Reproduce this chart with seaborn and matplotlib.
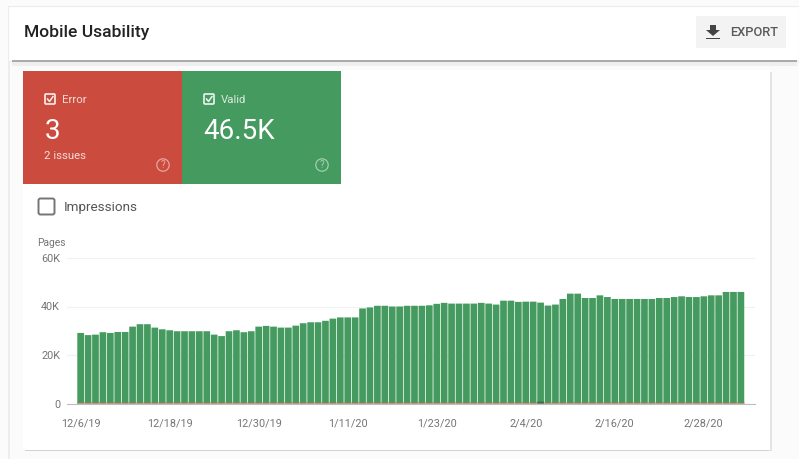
import pandas as pd
import seaborn as sns
import matplotlib.pyplot as plt
from matplotlib.patches import Rectangle, FancyBboxPatch, Circle, Polygon

# values are in thousands of pages
valid = [29.1, 28.2, 28.4, 29.4, 29.1, 29.5, 29.5, 31.7, 32.7, 32.7,
         31.3, 30.6, 30.2, 29.8, 29.8, 29.8, 29.8, 29.8, 28.4, 27.8,
         29.8, 30.2, 29.4, 29.8, 31.7, 32.0, 31.7, 31.3, 31.3, 32.1,
         33.1, 33.5, 33.5, 34.1, 35.0, 35.5, 35.5, 35.5, 39.2, 39.6,
         40.3, 40.3, 40.0, 40.0, 40.3, 40.3, 40.3, 40.5, 41.1, 41.5,
         41.2, 41.2, 41.2, 41.2, 41.5, 41.2, 40.8, 42.4, 42.4, 41.9,
         42.0, 42.0, 41.6, 40.4, 40.8, 43.1, 45.3, 45.3, 43.5, 43.5,
         44.6, 43.9, 43.1, 43.1, 43.1, 43.1, 43.1, 43.1, 43.5, 43.5,
         43.9, 44.2, 43.9, 43.9, 44.2, 44.6, 44.6, 46.0, 46.0, 46.0]
errors = [0.4] * 90
dark_spot = [0.0] * 62 + [0.8] + [0.0] * 27
dates = pd.date_range('2019-12-06', periods=90)
day_labels = [f'{d.month}/{d.day}/{d.strftime("%y")}' for d in dates]
y_ticks = [0, 20, 40, 60]
y_labels = ['0', '20K', '40K', '60K']

RED = '#cb4c3e'
GREEN = '#449a5f'
GREY = '#757575'
W, H = 799, 459

plt.rcParams['font.family'] = ['Roboto', 'DejaVu Sans']
fig = plt.figure(figsize=(W / 100, H / 100), dpi=100, facecolor='#fbfbfb')

# page furniture, drawn in pixel coordinates
ui = fig.add_axes([0, 0, 1, 1])
ui.set_xlim(0, W)
ui.set_ylim(H, 0)
ui.axis('off')

ui.add_patch(Rectangle((8, 6), W - 8, 55, fc='white', ec='#ececec', lw=0.8))
ui.add_patch(Rectangle((12, 60), 785, 2.2, fc='#ababab', ec='none'))
ui.add_patch(Rectangle((12, 62.2), 785, 4, fc='#efefef', ec='none'))
ui.add_patch(Rectangle((8, 61), 2, H, fc='#ededed', ec='none'))
ui.add_patch(Rectangle((25, 449), 747, 2.2, fc='#d2d2d2', ec='none'))
ui.add_patch(Rectangle((769, 72), 3, 379, fc='#e4e4e4', ec='none'))
ui.add_patch(Rectangle((23, 70), 747, 380, fc='white', ec='none'))
ui.text(24, 32.5, 'Mobile Usability', fontsize=12.6, fontweight='medium', color='#222222', va='center')

ui.add_patch(Rectangle((696, 16), 90, 32, fc='#f3f3f3', ec='none'))
ui.add_patch(Polygon([(710, 25), (716, 25), (716, 30), (720, 30), (713, 36), (706, 30), (710, 30)], fc='#444444', ec='none'))
ui.add_patch(Rectangle((706, 37.5), 14, 1.6, fc='#444444', ec='none'))
ui.text(730.5, 32.5, 'EXPORT', fontsize=9.3, fontweight='medium', color='#5a5a5a', va='center')


def status_card(x, color, name, number, issues=None):
    ui.add_patch(Rectangle((x, 71), 159, 112.5, fc=color, ec='none'))
    ui.add_patch(FancyBboxPatch((x + 22, 94), 10, 10, boxstyle='round,pad=0,rounding_size=1',
                                fc='none', ec='white', lw=1.2, alpha=0.9))
    ui.plot([x + 24.5, x + 26.5, x + 30], [99, 101.5, 96.5], color='white', lw=1.1, alpha=0.9)
    ui.text(x + 39, 100, name, fontsize=8.2, color='white', alpha=0.8, va='center')
    ui.text(x + 21.5, 131.5, number, fontsize=20, color='white', va='center')
    if issues:
        ui.text(x + 21.5, 156, issues, fontsize=8.2, color='white', alpha=0.8, va='center')
    ui.add_patch(Circle((x + 140, 165), 6.2, fc='none', ec='white', lw=0.9, alpha=0.5))
    ui.text(x + 140, 165.5, '?', fontsize=7, color='white', alpha=0.55, ha='center', va='center')


status_card(23, RED, 'Error', '3', '2 issues')
status_card(182, GREEN, 'Valid', '46.5K')

ui.add_patch(FancyBboxPatch((38.5, 198.5), 16, 16, boxstyle='round,pad=0,rounding_size=2',
                            fc='white', ec=GREY, lw=1.4))
ui.text(64, 207.5, 'Impressions', fontsize=9.7, color='#555555', va='center')
ui.text(37.5, 243, 'Pages', fontsize=7.4, color=GREY, va='center')

# chart
left, right, top, bottom = 67, 755, 258, 403.5
ax = fig.add_axes([left / W, 1 - bottom / H, (right - left) / W, (bottom - top) / H])
ax.patch.set_alpha(0)

df = pd.DataFrame({'day': day_labels, 'valid': valid, 'errors': errors, 'dark': dark_spot})
sns.barplot(data=df, x='day', y='valid', color=GREEN, saturation=1, width=0.9, ax=ax)
sns.barplot(data=df, x='day', y='errors', color='#b5724f', saturation=1, width=1.0, ax=ax)
sns.barplot(data=df, x='day', y='dark', color='#3f6b4c', saturation=1, width=0.9, ax=ax)

# no pixel snapping, otherwise the gaps between bars come out uneven
for bar in ax.patches:
    bar.set_snap(False)

ax.set_xlim(-1.84, 90.9)
ax.set_ylim(0, 60)
ax.set_xlabel('')
ax.set_ylabel('')
ax.set_yticks(y_ticks)
ax.set_yticklabels(y_labels)
ax.set_xticks(range(0, 90, 12))
ax.set_xticklabels(day_labels[::12])
ax.tick_params(axis='both', length=0, labelsize=7.8, labelcolor=GREY)
ax.tick_params(axis='x', pad=10.5)
ax.tick_params(axis='y', pad=5)
ax.grid(axis='y', color='#f1f1f1', lw=0.8)
ax.set_axisbelow(True)
sns.despine(ax=ax, left=True)
ax.spines['bottom'].set_color('#bdbdbd')

plt.savefig('out.png', dpi=100, facecolor=fig.get_facecolor())
